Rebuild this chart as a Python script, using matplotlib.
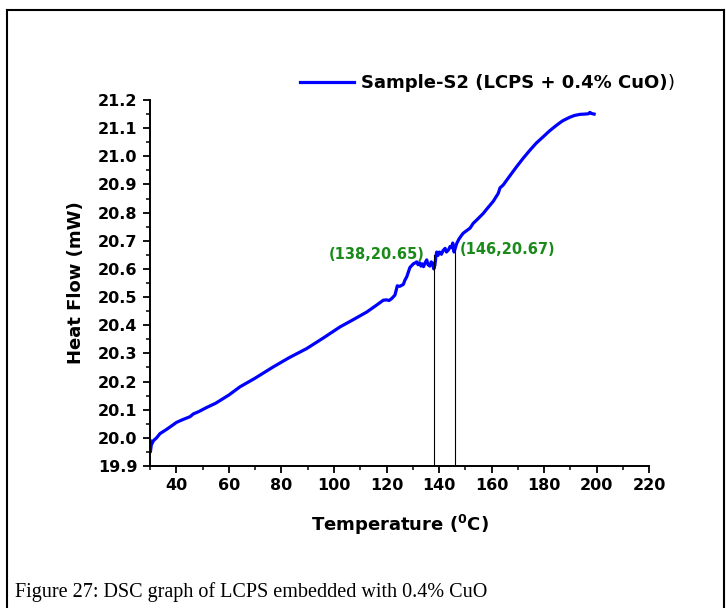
import matplotlib
matplotlib.use("Agg")
import matplotlib.pyplot as plt
from matplotlib.lines import Line2D
from matplotlib.ticker import MultipleLocator

# DSC trace, sample S2
temp = [30.0, 30.15, 30.5, 31.3, 32.5, 33.8, 36.3, 38.9, 40.1, 42.5, 45.2, 46.5, 48.5,
        51.6, 55.0, 60.0, 64.2, 70.0, 76.9, 83.0, 89.6, 96.0, 102.3, 107.0, 112.5,
        116.0, 118.8, 120.0, 121.0, 122.0, 123.2, 123.7, 124.1, 125.0, 126.4, 127.0,
        127.7, 128.9, 130.2, 131.0, 131.5, 132.0, 132.6, 133.1, 133.6, 134.1, 134.6,
        135.3, 135.8, 136.5, 137.0, 137.5, 138.0, 138.4, 138.8, 139.1, 139.6, 140.2,
        140.9, 141.5, 142.3, 142.8, 143.6, 144.2, 144.8, 145.2, 145.7, 146.2, 146.7,
        147.5, 148.6, 149.2, 150.5, 151.8, 153.0, 155.0, 156.8, 158.1, 160.6, 162.5,
        163.2, 164.4, 166.5, 169.5, 172.0, 174.6, 177.0, 179.7, 182.0, 184.8, 187.0,
        189.8, 191.5, 193.6, 195.5, 196.8, 197.4, 198.0, 199.0]
heat_flow = [19.99, 19.95, 19.975, 19.99, 20.0, 20.015, 20.03, 20.047, 20.055, 20.065,
             20.075, 20.085, 20.093, 20.108, 20.123, 20.152, 20.181, 20.212, 20.252,
             20.285, 20.317, 20.355, 20.394, 20.418, 20.447, 20.47, 20.489, 20.49,
             20.488, 20.495, 20.507, 20.525, 20.54, 20.538, 20.545, 20.56, 20.572,
             20.605, 20.618, 20.622, 20.625, 20.615, 20.622, 20.61, 20.618, 20.608,
             20.62, 20.632, 20.615, 20.61, 20.625, 20.62, 20.6, 20.613, 20.645, 20.66,
             20.648, 20.66, 20.652, 20.665, 20.673, 20.66, 20.668, 20.68, 20.675,
             20.692, 20.66, 20.675, 20.69, 20.705, 20.72, 20.727, 20.736, 20.745,
             20.762, 20.78, 20.797, 20.812, 20.84, 20.868, 20.888, 20.898, 20.925,
             20.963, 20.993, 21.022, 21.047, 21.07, 21.09, 21.111, 21.126, 21.139,
             21.145, 21.149, 21.15, 21.151, 21.156, 21.152, 21.15]

# marked transition points
mark_t = [138, 146]
mark_h = [20.65, 20.67]

plt.rcParams['font.family'] = ['DejaVu Sans']
plt.rcParams['mathtext.fontset'] = 'dejavusans'

fig = plt.figure(figsize=(7.26, 6.08), dpi=100)
W, H = 726.0, 608.0
ax = fig.add_axes([150 / W, 1 - 466 / H, 499.3 / W, 366 / H])

ax.plot(temp, heat_flow, color='#0000ff', lw=2.3, label='Sample-S2 (LCPS + 0.4% CuO)')
for t, h in zip(mark_t, mark_h):
    ax.plot([t, t], [19.9, h], color='black', lw=0.8)

ax.text(134.5, mark_h[0], '(%d,%.2f)' % (mark_t[0], mark_h[0]), color='#1a8a1a',
        fontsize=10.5, fontweight='bold', ha='right', va='center')
ax.text(148, mark_h[1], '(%d,%.2f)' % (mark_t[1], mark_h[1]), color='#1a8a1a',
        fontsize=10.5, fontweight='bold', ha='left', va='center')

ax.set_xlim(30, 220)
ax.set_ylim(19.9, 21.2)
ax.xaxis.set_major_locator(MultipleLocator(20))
ax.xaxis.set_minor_locator(MultipleLocator(10))
ax.yaxis.set_major_locator(MultipleLocator(0.1))
ax.yaxis.set_minor_locator(MultipleLocator(0.05))
ax.set_xticks(range(40, 221, 20))
ax.yaxis.set_major_formatter(plt.FormatStrFormatter('%.1f'))

for s in ['top', 'right']:
    ax.spines[s].set_visible(False)
for s in ['left', 'bottom']:
    ax.spines[s].set_linewidth(1.4)
ax.tick_params(which='major', direction='out', length=5, width=1.3, labelsize=11.5, pad=4)
ax.tick_params(which='minor', direction='out', length=3, width=1.1)
for lab in ax.get_xticklabels() + ax.get_yticklabels():
    lab.set_fontweight('bold')

ax.set_xlabel(r'Temperature ($\mathbf{^0}$C)', fontsize=13, fontweight='bold')
ax.set_ylabel('Heat Flow (mW)', fontsize=13, fontweight='bold')
ax.xaxis.set_label_coords(0.5, -0.161)
ax.xaxis.label.set_va('center')
ax.yaxis.set_label_coords(-0.148, 0.5)
ax.yaxis.label.set_va('center')

leg = ax.legend(loc='center left', bbox_to_anchor=(300 / W, 1 - 83 / H),
                bbox_transform=fig.transFigure, frameon=False, fontsize=13,
                handlelength=3.0, handletextpad=0.4, borderpad=0, borderaxespad=0)
leg_txt = leg.get_texts()[0]
leg_txt.set_fontweight('bold')

# the extra closing paren after the legend entry, in regular weight
fig.canvas.draw()
bb = leg_txt.get_window_extent()
fig.text(bb.x1 / W, bb.y0 / H, ')', ha='left', va='bottom', fontsize=13)

# outer frame and caption
fig.add_artist(Line2D([7 / W, 7 / W], [0, 1 - 10 / H], color='black', lw=1.5))
fig.add_artist(Line2D([7 / W, 724 / W], [1 - 10 / H, 1 - 10 / H], color='black', lw=1.5))
fig.add_artist(Line2D([724 / W, 724 / W], [0, 1 - 10 / H], color='black', lw=1.5))
fig.text(15 / W, 1 - 597 / H, 'Figure 27: DSC graph of LCPS embedded with 0.4% CuO',
         family='Liberation Serif', fontsize=14.5, ha='left', va='baseline')

fig.savefig('out.png', dpi=100)
